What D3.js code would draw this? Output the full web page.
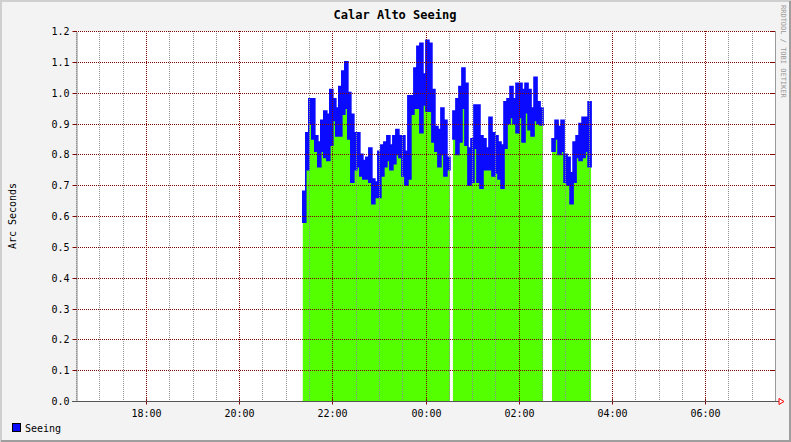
<!DOCTYPE html>
<html lang="en">
<head>
<meta charset="UTF-8">
<title>Calar Alto Seeing</title>
<script src="https://cdn.jsdelivr.net/npm/d3@7"></script>
<style>
    body{margin:0;background:#fff}
    svg text{font-family:"DejaVu Sans Mono",monospace}
</style>
</head>
<body>
<script>
    // seeing samples (arc sec), one sample every 232 s starting 21:22, null = no data
    // high = top of the blue trace, low = bottom of the blue trace / top of the green fill
    var seeingHigh=[0.68,0.87,0.98,0.98,0.86,0.84,0.91,0.94,0.93,1.01,0.98,0.95,1.02,1.07,1.10,1.00,
        0.93,0.87,0.87,0.80,0.78,0.79,0.82,0.72,0.71,0.81,0.83,0.84,0.86,0.83,0.86,0.88,
        0.86,0.86,0.81,0.99,0.99,1.08,1.15,1.16,1.06,1.17,1.16,1.01,0.89,0.88,0.95,0.91,0.79,null,
        0.94,0.98,1.02,1.08,1.03,0.82,0.85,0.96,0.96,0.86,0.85,0.82,0.92,0.87,0.86,
        0.84,0.83,0.97,0.98,1.02,0.98,1.03,1.03,1.01,1.03,1.01,0.95,1.05,0.97,0.95,null,null,null,
        0.85,0.91,0.89,0.91,0.80,0.79,0.74,0.84,0.86,0.90,0.92,0.92,0.97];
    var seeingLow=[0.58,0.75,0.90,0.85,0.81,0.76,0.81,0.79,0.78,0.83,0.91,0.86,0.86,0.93,0.95,0.85,
        0.71,0.75,0.76,0.73,0.72,0.72,0.71,0.64,0.66,0.66,0.73,0.76,0.78,0.75,0.77,0.80,
        0.79,0.73,0.70,0.72,0.93,0.95,0.95,0.87,0.96,0.94,0.94,0.84,0.81,0.76,0.80,0.73,0.75,null,
        0.85,0.80,0.84,0.95,0.83,0.70,0.71,0.82,0.71,0.69,0.75,0.75,0.75,0.73,0.74,
        0.72,0.69,0.82,0.90,0.92,0.90,0.87,0.92,0.84,0.935,0.88,0.86,0.91,0.90,0.895,null,null,null,
        0.81,0.85,0.80,0.81,0.71,0.70,0.64,0.71,0.79,0.78,0.79,0.81,0.76];
    var yTicks=[0,0.1,0.2,0.3,0.4,0.5,0.6,0.7,0.8,0.9,1.0,1.1,1.2];
    var xTickLabels=["18:00","20:00","22:00","00:00","02:00","04:00","06:00"];

    var startTime=new Date(2000,0,1,21,22);
    var stepSec=232;

    var width=791,height=442;
    var padding={left:76,right:16,top:31,bottom:41};

    var svg=d3.select("body").append("svg").attr("width",width).attr("height",height);

    // background with rrdtool style shaded border
    svg.append("rect").attr("width",width).attr("height",height).attr("fill","#f3f3f3");
    svg.append("path").attr("d","M1,"+height+"V1H"+width).attr("fill","none").attr("stroke","#cfcfcf").attr("stroke-width",2);
    svg.append("path").attr("d","M1,"+(height-1)+"H"+(width-1)+"V1").attr("fill","none").attr("stroke","#9e9e9e").attr("stroke-width",2);

    var xScale=d3.scaleTime()
        .domain([new Date(2000,0,1,16,30),new Date(2000,0,2,7,30)])
        .range([padding.left,width-padding.right]);
    var yScale=d3.scaleLinear().domain([0,1.2]).range([height-padding.bottom,padding.top]);

    // canvas
    svg.append("rect").attr("x",padding.left).attr("y",padding.top)
        .attr("width",width-padding.left-padding.right)
        .attr("height",height-padding.top-padding.bottom).attr("fill","#fff");

    // build step points, closing every segment at the end of its last sample
    var pts=[];
    seeingHigh.forEach(function(h,i){
        var t=new Date(startTime.getTime()+i*stepSec*1000);
        if(h==null){pts.push({gap:true});return;}
        pts.push({t:t,hi:h,lo:seeingLow[i]});
        if(i==seeingHigh.length-1||seeingHigh[i+1]==null){
            pts.push({t:new Date(t.getTime()+stepSec*1000),hi:h,lo:seeingLow[i]});
        }
    });

    var fill=d3.area().defined(function(d){return !d.gap;})
        .x(function(d){return xScale(d.t);})
        .y0(yScale(0)).y1(function(d){return yScale(d.lo);})
        .curve(d3.curveStepAfter);
    var band=d3.area().defined(function(d){return !d.gap;})
        .x(function(d){return xScale(d.t);})
        .y0(function(d){return yScale(d.lo);}).y1(function(d){return yScale(d.hi);})
        .curve(d3.curveStepAfter);

    svg.append("path").attr("d",fill(pts)).attr("fill","#54ff00");
    svg.append("path").attr("d",band(pts)).attr("fill","#0a0aff")
        .attr("stroke","#0a0aff").attr("stroke-width",1.6).attr("stroke-linejoin","miter");

    // grid on top of the data
    var majorTimes=xScale.ticks(d3.timeHour.every(2));
    var minorTimes=xScale.ticks(d3.timeMinute.every(30)).filter(function(t){
        return !(t.getMinutes()==0&&t.getHours()%2==0);
    });
    var grid=svg.append("g").attr("shape-rendering","crispEdges");
    grid.selectAll(".minor").data(minorTimes).enter().append("line")
        .attr("x1",function(d){return Math.round(xScale(d))+0.5;})
        .attr("x2",function(d){return Math.round(xScale(d))+0.5;})
        .attr("y1",padding.top).attr("y2",height-padding.bottom)
        .attr("stroke","#8f8f8f").attr("stroke-dasharray","1,1");
    grid.selectAll(".majorx").data(majorTimes).enter().append("line")
        .attr("x1",function(d){return Math.round(xScale(d))+0.5;})
        .attr("x2",function(d){return Math.round(xScale(d))+0.5;})
        .attr("y1",padding.top).attr("y2",height-padding.bottom)
        .attr("stroke","#800000").attr("stroke-dasharray","1,1");
    grid.selectAll(".majory").data(yTicks.slice(1)).enter().append("line")
        .attr("x1",padding.left).attr("x2",width-padding.right)
        .attr("y1",function(d){return Math.round(yScale(d))+0.5;})
        .attr("y2",function(d){return Math.round(yScale(d))+0.5;})
        .attr("stroke","#800000").attr("stroke-dasharray","1,1");
    // short solid ticks at the right border
    grid.selectAll(".rtick").data(yTicks).enter().append("line")
        .attr("x1",width-padding.right-4).attr("x2",width-padding.right)
        .attr("y1",function(d){return Math.round(yScale(d))+0.5;})
        .attr("y2",function(d){return Math.round(yScale(d))+0.5;})
        .attr("stroke","#800000");
    // right border of canvas
    grid.append("line").attr("x1",width-padding.right+0.5).attr("x2",width-padding.right+0.5)
        .attr("y1",padding.top).attr("y2",height-padding.bottom).attr("stroke","#9a9a9a");

    // y axis
    var yAxis=d3.axisLeft(yScale).tickValues(yTicks).tickFormat(d3.format(".1f"))
        .tickSizeInner(4).tickSizeOuter(0).tickPadding(3);
    var gy=svg.append("g").attr("transform","translate("+(padding.left+0.5)+",0.5)").call(yAxis);
    gy.select(".domain").attr("stroke","#888");
    gy.selectAll(".tick line").attr("stroke","#800000");
    gy.selectAll(".tick").attr("transform",function(d){return "translate(0,"+Math.round(yScale(d))+")";});
    gy.selectAll("text").attr("font-size",10).attr("fill","#000")
        .style("font-family","'DejaVu Sans Mono',monospace");

    // x axis
    var xAxis=d3.axisBottom(xScale).tickValues(majorTimes)
        .tickFormat(function(d,i){return xTickLabels[i];})
        .tickSizeInner(3).tickSizeOuter(0).tickPadding(5);
    var gx=svg.append("g").attr("transform","translate(0,"+(height-padding.bottom+0.5)+")").call(xAxis);
    gx.select(".domain").remove();
    gx.selectAll(".tick line").attr("stroke","#800000").attr("y1",-3);
    gx.selectAll(".tick").attr("transform",function(d){return "translate("+(Math.round(xScale(d))+0.5)+",0)";});
    gx.selectAll("text").attr("font-size",10).attr("fill","#000")
        .style("font-family","'DejaVu Sans Mono',monospace");
    gx.append("line").attr("x1",padding.left-4).attr("x2",width-padding.right+4)
        .attr("y1",0).attr("y2",0).attr("stroke","#555");
    // arrow
    var ax=width-padding.right+4;
    gx.append("path").attr("d","M"+ax+",-3L"+(ax+5)+",0L"+ax+",3Z")
        .attr("fill","none").attr("stroke","#ff0000");

    // title and labels
    svg.append("text").attr("x",395).attr("y",19).attr("text-anchor","middle")
        .attr("font-size",12).attr("font-weight","bold").text("Calar Alto Seeing");
    svg.append("text").attr("transform","translate(16,"+((padding.top+height-padding.bottom)/2)+") rotate(-90)")
        .attr("text-anchor","middle").attr("font-size",10).text("Arc Seconds");
    svg.append("text").attr("transform","translate(781,5) rotate(90)")
        .attr("font-size",7).attr("fill","#999").text("RRDTOOL / TOBI OETIKER");

    // legend
    svg.append("rect").attr("x",12.5).attr("y",423.5).attr("width",8).attr("height",8)
        .attr("fill","#0a0aff").attr("stroke","#000");
    svg.append("text").attr("x",25).attr("y",432).attr("font-size",10).text("Seeing");
</script>
</body>
</html>
